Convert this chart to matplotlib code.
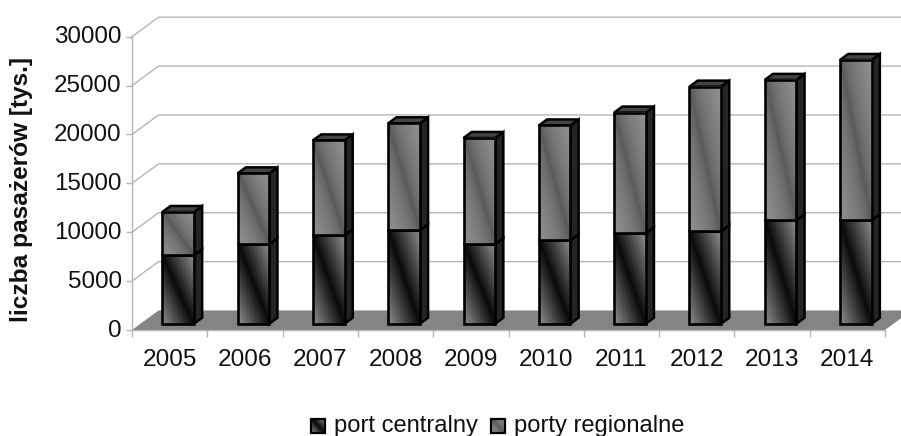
#!/usr/bin/env python3
"""Stacked pseudo-3D columns of passenger numbers, central port vs regional ports."""

import matplotlib

matplotlib.use("Agg")
import matplotlib.pyplot as plt
import numpy as np
from matplotlib.patches import Polygon, Rectangle
from matplotlib.transforms import ScaledTranslation

plt.rcParams["font.family"] = ["Liberation Sans", "DejaVu Sans"]

YEARS = ["2005", "2006", "2007", "2008", "2009", "2010", "2011", "2012", "2013", "2014"]
PORT_CENTRALNY = [7000, 8130, 9050, 9560, 8130, 8540, 9250, 9450, 10580, 10580]
PORTY_TOTAL = [11430, 15380, 18750, 20500, 19000, 20280, 21600, 24250, 24940, 26980]
Y_TICKS = [0, 5000, 10000, 15000, 20000, 25000, 30000]

WIDTH, HEIGHT = 901, 436
LEFT, RIGHT, BOTTOM, TOP = 132, 885, 330, 36.7

# oblique depth of the whole scene, in axis units
DEPTH_X = 26.5 / (RIGHT - LEFT) * 10
DEPTH_Y = 19.5 / (BOTTOM - TOP) * 30000
BAR_WIDTH = 0.42
BAR_NEAR, BAR_FAR = 0.32, 0.63

# (dark, light, gamma) of the two face gradients
CENTRAL_SHADE = (0.04, 0.56, 1.0)
REGIONAL_SHADE = (0.34, 0.57, 0.6)


def project(x, value, depth):
    return x + depth * DEPTH_X, value + depth * DEPTH_Y


def gradient_face(ax, x0, x1, y0, y1, shade, zorder, lw=1.9):
    """Fill a rectangle with a band that is darkest along its falling diagonal."""
    dark, light, gamma = shade
    u, v = np.meshgrid(np.linspace(0, 1, 40), np.linspace(0, 1, 120))
    ramp = np.abs(u + v - 1) ** gamma
    ax.imshow(
        dark + (light - dark) * ramp,
        extent=(x0, x1, y0, y1),
        origin="lower",
        cmap="gray",
        vmin=0,
        vmax=1,
        aspect="auto",
        interpolation="bilinear",
        zorder=zorder,
        clip_on=False,
    )
    ax.add_patch(
        Rectangle((x0, y0), x1 - x0, y1 - y0, fill=False, ec="black", lw=lw, zorder=zorder + 0.1, clip_on=False)
    )


def draw_segment(ax, center, low, high, shade, zorder):
    x0 = center - BAR_WIDTH / 2
    x1 = center + BAR_WIDTH / 2
    near_left, near_low = project(x0, low, BAR_NEAR)
    near_right, near_high = project(x1, high, BAR_NEAR)
    side = [
        project(x1, low, BAR_NEAR),
        project(x1, low, BAR_FAR),
        project(x1, high, BAR_FAR),
        project(x1, high, BAR_NEAR),
    ]
    ax.add_patch(Polygon(side, fc="#242424", ec="black", lw=1.8, zorder=zorder, clip_on=False))
    gradient_face(ax, near_left, near_right, near_low, near_high, shade, zorder + 0.2)


fig = plt.figure(figsize=(WIDTH / 100, HEIGHT / 100), dpi=100)
ax = fig.add_axes(
    [LEFT / WIDTH, 1 - BOTTOM / HEIGHT, (RIGHT - LEFT) / WIDTH, (BOTTOM - TOP) / HEIGHT]
)

# back wall grid and the diagonals running to the front axis
for tick in Y_TICKS[1:]:
    bx, by = project(0, tick, 1)
    ex, ey = project(10, tick, 1)
    ax.plot([0, bx, ex], [tick, by, ey], color="#b5b5b5", lw=1.0, zorder=1, clip_on=False)

floor = [project(0, 0, 0), project(0, 0, 1), project(10, 0, 1), project(10, 0, 0)]
ax.add_patch(Polygon(floor, fc="#848484", ec="none", zorder=2, clip_on=False))

for i, (central, total) in enumerate(zip(PORT_CENTRALNY, PORTY_TOTAL)):
    center = i + 0.5
    z = 3 + i
    draw_segment(ax, center, 0, central, CENTRAL_SHADE, z)
    draw_segment(ax, center, central, total, REGIONAL_SHADE, z + 0.4)
    x0 = center - BAR_WIDTH / 2
    x1 = center + BAR_WIDTH / 2
    lid = [
        project(x0, total, BAR_NEAR),
        project(x0, total, BAR_FAR),
        project(x1, total, BAR_FAR),
        project(x1, total, BAR_NEAR),
    ]
    ax.add_patch(Polygon(lid, fc="#444444", ec="black", lw=1.8, zorder=z + 0.5, clip_on=False))

ax.set_xlim(0, 10)
ax.set_ylim(0, 30000)
for name in ("top", "right"):
    ax.spines[name].set_visible(False)
for name in ("left", "bottom"):
    ax.spines[name].set_color("#b5b5b5")
    ax.spines[name].set_linewidth(1.0)

ax.set_yticks(Y_TICKS)
ax.set_xticks(np.arange(11))
ax.set_xticklabels([])
ax.set_xticks(np.arange(10) + 0.5, YEARS, minor=True)
ax.tick_params(axis="x", which="major", length=5, color="#b5b5b5", width=1.0)
ax.tick_params(axis="x", which="minor", length=0, labelsize=17.6, pad=14, labelcolor="#111111")
ax.tick_params(axis="y", length=4.5, color="#b5b5b5", width=1.0, labelsize=17.4, pad=3, labelcolor="#111111")

# value labels sit slightly above their ticks
nudge = ScaledTranslation(0, 2 / 100, fig.dpi_scale_trans)
for label in ax.get_yticklabels():
    label.set_transform(label.get_transform() + nudge)

fig.text(22 / WIDTH, 1 - 189 / HEIGHT, "liczba pasażerów [tys.]", rotation=90, ha="center", va="center",
         fontsize=17.6, fontweight="bold", color="#111111")

# legend row along the bottom edge
legend_items = [
    (310.5, 334, "port centralny", CENTRAL_SHADE),
    (491, 514, "porty regionalne", REGIONAL_SHADE),
]
for swatch_x, text_x, label, shade in legend_items:
    swatch = fig.add_axes([swatch_x / WIDTH, 1 - 433 / HEIGHT, 14 / WIDTH, 14 / HEIGHT])
    swatch.set_axis_off()
    gradient_face(swatch, 0, 1, 0, 1, shade, 1, lw=1.6)
    swatch.set_xlim(0, 1)
    swatch.set_ylim(0, 1)
    fig.text(text_x / WIDTH, 1 - 425.5 / HEIGHT, label, ha="left", va="center", fontsize=17.1, color="#111111")

fig.savefig("out.png", dpi=100, facecolor="white")
